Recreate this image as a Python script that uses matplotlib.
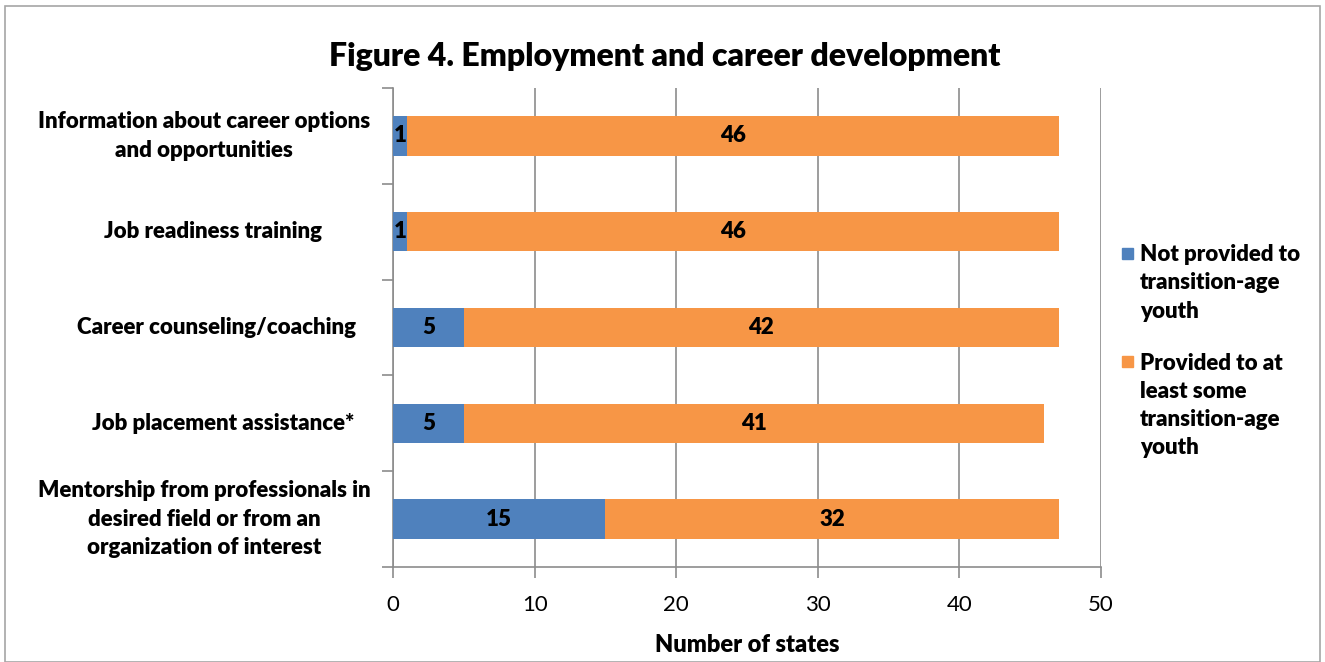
import numpy as np
import matplotlib.pyplot as plt
from matplotlib.patches import Rectangle

plt.rcParams['font.family'] = ['Lato', 'DejaVu Sans']

categories = [
    'Information about career options\nand opportunities',
    'Job readiness training',
    'Career counseling/coaching',
    'Job placement assistance*',
    'Mentorship from professionals in\ndesired field or from an\norganization of interest',
]
not_provided = [1, 1, 5, 5, 15]
provided = [46, 46, 42, 41, 32]
series_names = ['Not provided to\ntransition-age\nyouth',
                'Provided to at\nleast some\ntransition-age\nyouth']
xticks = [0, 10, 20, 30, 40, 50]

blue = '#4F81BD'
orange = '#F79646'
grid = '#8C8C8C'
wt = 'heavy'

fig = plt.figure(figsize=(13.25, 6.62), dpi=100)
fig.patches.append(Rectangle((0.004, 0.0), 0.992, 0.991, transform=fig.transFigure,
                             fill=False, edgecolor='#A6A6A6', linewidth=1.2))
ax = fig.add_axes([0.2966, 0.1435, 0.5344, 0.7235])

y = np.arange(len(categories))
left = np.array(not_provided)
right = np.array(provided)
b1 = ax.barh(y, left, height=0.41, color=blue, zorder=3)
b2 = ax.barh(y, right, left=left, height=0.41, color=orange, zorder=3)

for bars, vals in [(b1, not_provided), (b2, provided)]:
    for rect, v in zip(bars, vals):
        ax.text(rect.get_x() + rect.get_width() / 2, rect.get_y() + rect.get_height() / 2,
                str(v), ha='center', va='center', fontsize=16, fontweight=wt, zorder=4)

ax.set_ylim(len(categories) - 0.5, -0.5)
ax.set_xlim(0, 50)
ax.set_xticks(xticks)
ax.set_xticklabels([str(t) for t in xticks], fontsize=16)
ax.tick_params(axis='x', length=8, width=1.2, color=grid, pad=12)

# category ticks sit on the band boundaries, labels are drawn separately
ax.set_yticks(np.arange(len(categories) + 1) - 0.5)
ax.set_yticklabels([])
ax.tick_params(axis='y', length=8, width=1.2, color=grid)
label_centers = [204, 213, 217, 223, 204]
for yi, name, cx in zip(y, categories, label_centers):
    ax.text((cx - 393) / 708, yi, name, transform=ax.get_yaxis_transform(),
            ha='center', va='center', multialignment='center',
            fontsize=16, fontweight=wt, linespacing=1.42)

ax.grid(axis='x', color=grid, linewidth=1.2, zorder=0)
for side in ['top', 'right']:
    ax.spines[side].set_visible(False)
for side in ['left', 'bottom']:
    ax.spines[side].set_color(grid)
    ax.spines[side].set_linewidth(1.2)

ax.set_xlabel('Number of states', fontsize=17, fontweight=wt, labelpad=14)
fig.text(0.502, 0.915, 'Figure 4. Employment and career development',
         ha='center', va='center', fontsize=23, fontweight=wt)

# legend: swatch aligned with the first line of each label
for name, color, ytop in zip(series_names, [blue, orange], [0.618, 0.454]):
    fig.patches.append(Rectangle((0.8468, ytop - 0.0085), 0.0083, 0.0166,
                                 transform=fig.transFigure, color=color))
    fig.text(0.8605, ytop + 0.013, name, ha='left', va='top', fontsize=16,
             fontweight=wt, linespacing=1.42)

fig.savefig('out.png', dpi=100)
